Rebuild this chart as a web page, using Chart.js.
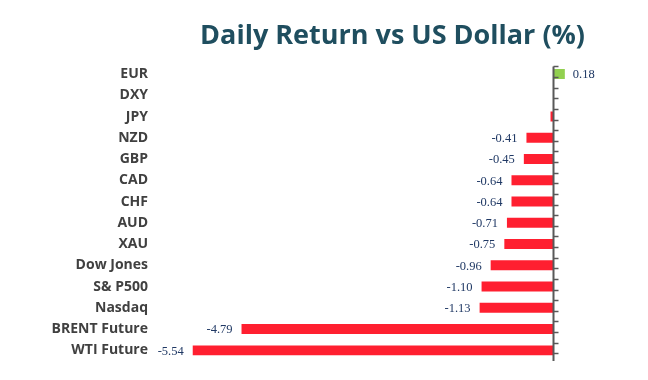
<!DOCTYPE html>
<html><head><meta charset="utf-8">
<script src="https://cdn.jsdelivr.net/npm/chart.js@4"></script>
<style>html,body{margin:0;padding:0;background:#fff}#wrap{width:648px;height:380px}</style>
</head><body><div id="wrap"><canvas id="c"></canvas></div>
<script>
const categories = ["EUR","DXY","JPY","NZD","GBP","CAD","CHF","AUD","XAU","Dow Jones","S& P500","Nasdaq","BRENT Future","WTI Future"];
const returns = [0.18, 0.00, -0.04, -0.41, -0.45, -0.64, -0.64, -0.71, -0.75, -0.96, -1.10, -1.13, -4.79, -5.54];
const titleText = "Daily Return vs US Dollar (%)";

const zeroAxis = {
  id: 'zeroAxis',
  afterDatasetsDraw(chart) {
    const ctx = chart.ctx, xs = chart.scales.x, ys = chart.scales.y;
    const x0 = Math.round(xs.getPixelForValue(0)) + 0.5;
    const band = (ys.getPixelForValue(1) - ys.getPixelForValue(0));
    const top = ys.getPixelForValue(0) - band / 2, bot = ys.getPixelForValue(categories.length - 1) + band / 2;
    ctx.save();
    ctx.strokeStyle = '#595959'; ctx.lineWidth = 2;
    ctx.beginPath(); ctx.moveTo(x0, top + 3); ctx.lineTo(x0, bot); ctx.stroke();
    ctx.lineWidth = 1.5;
    for (let i = 0; i <= categories.length * 2; i++) {
      const y = Math.round(top + 3 + i * band / 2) + 0.5;
      if (y > bot + 1) break;
      ctx.beginPath(); ctx.moveTo(x0, y); ctx.lineTo(x0 + 5, y); ctx.stroke();
    }
    ctx.font = '12.5px "Liberation Serif", "DejaVu Serif", serif';
    ctx.fillStyle = '#1f3864'; ctx.textBaseline = 'middle';
    const meta = chart.getDatasetMeta(0);
    returns.forEach((v, i) => {
      if (Math.abs(v) < 0.1) return;
      const el = meta.data[i];
      const t = v.toFixed(2);
      if (v >= 0) { ctx.textAlign = 'left'; ctx.fillText(t, el.x + 8, el.y + 1); }
      else { ctx.textAlign = 'right'; ctx.fillText(t, el.x - 9, el.y + 1); }
    });
    ctx.restore();
  }
};

new Chart(document.getElementById('c'), {
  type: 'bar',
  data: {
    labels: categories,
    datasets: [{
      data: returns,
      backgroundColor: returns.map(v => v >= 0 ? '#92d050' : '#ff1f30'),
      borderWidth: 0,
      barPercentage: 0.47,
      categoryPercentage: 1.0
    }]
  },
  options: {
    indexAxis: 'y',
    responsive: true,
    maintainAspectRatio: false,
    animation: false,
    layout: { padding: { left: 0, right: 63, top: 0, bottom: 19 } },
    plugins: {
      legend: { display: false },
      tooltip: { enabled: false },
      title: {
        display: true, text: titleText, align: 'end', color: '#1f4e5f',
        font: { family: '"Open Sans", Lato, sans-serif', size: 27, weight: 'bold' },
        padding: { top: 20, bottom: 11 }
      }
    },
    scales: {
      x: { min: -6.12, max: 0.49, display: false, grid: { display: false } },
      y: {
        grid: { display: false, drawTicks: false },
        border: { display: false },
        ticks: { color: '#404040', padding: 7, font: { family: '"Open Sans", Lato, sans-serif', size: 14, weight: 'bold' } },
        afterFit(s) { s.width = 155; }
      }
    }
  },
  plugins: [zeroAxis]
});
</script></body></html>
